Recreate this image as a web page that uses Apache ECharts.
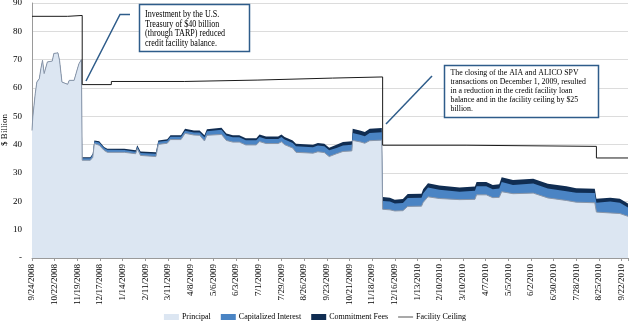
<!DOCTYPE html>
<html><head><meta charset="utf-8">
<script src="https://cdn.jsdelivr.net/npm/echarts@6/dist/echarts.min.js"></script>
<style>html,body{margin:0;padding:0;background:#fff}#c{width:630px;height:322px}</style>
</head><body><div id="c"></div>
<script>
// ---- data (values in $ billion) ----
var dates = [
 '2008-09-24','2008-09-25','2008-09-28','2008-09-30','2008-10-03','2008-10-05','2008-10-07','2008-10-09','2008-10-11','2008-10-13',
 '2008-10-19','2008-10-21','2008-10-26','2008-10-28','2008-10-31','2008-11-07','2008-11-09','2008-11-15','2008-11-18','2008-11-21','2008-11-24',
 '2008-11-25','2008-12-05','2008-12-08','2008-12-10','2008-12-16','2008-12-22','2008-12-26','2009-01-16','2009-01-18','2009-01-30',
 '2009-02-01','2009-02-05','2009-02-24','2009-02-27','2009-03-10','2009-03-14','2009-03-27','2009-04-01','2009-04-12','2009-04-19',
 '2009-04-25','2009-04-28','2009-05-16','2009-05-22','2009-05-30','2009-06-07','2009-06-15','2009-06-28','2009-07-02','2009-07-10',
 '2009-07-25','2009-07-29','2009-08-02','2009-08-12','2009-08-16','2009-09-06','2009-09-12','2009-09-20','2009-09-26','2009-10-05',
 '2009-10-13','2009-10-24','2009-10-25','2009-11-03','2009-11-09','2009-11-15','2009-11-30','2009-12-01','2009-12-10','2009-12-16',
 '2009-12-26','2010-01-01','2010-01-18','2010-01-20','2010-01-26','2010-02-09','2010-03-06','2010-03-25','2010-03-27','2010-04-08',
 '2010-04-16','2010-04-24','2010-04-27','2010-05-11','2010-06-05','2010-06-23','2010-07-16','2010-07-28','2010-08-20','2010-08-22',
 '2010-09-08','2010-09-20','2010-09-30'
];
var principal = [
 45.0,49.8,58.0,62.1,63.3,66.9,69.8,65.1,65.7,69.2,
 69.5,72.2,72.4,69.8,62.1,61.3,62.7,62.7,65.7,68.6,70.0,
 34.5,34.5,35.5,40.4,39.8,38.0,37.3,37.3,36.8,36.8,
 38.6,36.2,35.8,40.1,40.5,41.8,41.8,44.0,43.4,43.3,
 41.3,43.3,43.6,41.5,40.9,40.9,39.9,39.9,41.1,40.4,
 40.4,41.0,40.0,38.8,37.3,37.0,37.5,37.2,35.8,36.8,
 37.6,37.8,41.5,41.0,40.5,41.4,41.6,17.2,17.0,16.6,
 16.7,18.2,18.3,19.6,21.6,21.0,20.6,20.7,22.3,22.3,
 21.3,21.4,23.4,22.7,22.9,21.2,20.3,19.7,19.5,16.2,
 15.9,15.7,14.7
];
var interest = [
 0,0,0,0,0,0,0,0,0,0,
 0,0,0,0,0,0,0,0,0,0,0,
 0.7,0.7,0.9,0.7,1.0,0.8,0.9,0.8,0.7,0.7,
 0.7,0.9,1.0,0.9,0.9,1.0,1.0,0.9,0.9,1.0,
 1.3,1.4,1.7,1.7,1.7,1.7,1.7,1.7,1.6,1.6,
 1.6,1.7,1.8,1.8,2.1,2.1,2.2,2.2,2.2,2.0,
 2.1,2.2,2.6,2.5,2.5,2.7,2.8,2.9,2.9,2.6,
 2.7,3.0,3.0,3.2,3.3,3.1,2.8,3.0,3.0,3.0,
 3.0,3.1,3.4,3.1,3.4,3.3,3.3,3.3,3.4,3.3,
 4.0,3.8,3.1
];
var fees = [
 0,0,0,0,0,0,0,0,0,0,
 0,0,0,0,0,0,0,0,0,0,0,
 0.4,0.4,0.4,0.4,0.4,0.4,0.4,0.5,0.5,0.5,
 0.5,0.5,0.5,0.5,0.5,0.5,0.5,0.7,0.7,0.7,
 0.7,0.7,0.7,0.7,0.7,0.7,0.7,0.7,0.9,0.9,
 0.9,0.9,0.9,0.9,0.9,0.9,0.9,0.9,0.9,1.2,
 1.2,1.2,1.5,1.5,1.5,1.5,1.5,1.4,1.4,1.4,
 1.4,1.4,1.4,1.5,1.5,1.5,1.5,1.5,1.5,1.5,
 1.5,1.5,1.7,1.7,1.7,1.7,1.7,1.6,1.5,1.4,
 1.4,1.4,1.4
];
var ceilingDates = ['2008-09-24','2008-11-07','2008-11-25','2008-12-31','2009-03-31','2009-06-30','2009-09-30','2009-12-01','2010-03-14','2010-08-22','2010-09-30'];
var ceilingValues = [85.3,85.6,61.2,62.3,62.8,63.5,63.9,39.8,39.4,35.3,35.3];
var seriesNames = ['Principal','Capitalized Interest','Commitment Fees','Facility Ceiling'];

// ---- helpers ----
var BASE = Date.UTC(2008, 8, 24);
function dayOf(s){ var p = s.split('-').map(Number); return Math.round((Date.UTC(p[0], p[1]-1, p[2]) - BASE) / 864e5); }
function fmtDay(d){ var t = new Date(BASE + d * 864e5); return (t.getUTCMonth()+1) + '/' + t.getUTCDate() + '/' + t.getUTCFullYear(); }
function pairs(xs, ys){ return xs.map(function(x, i){ return [dayOf(x), ys[i]]; }); }
function r1(v){ return Math.round(v * 100) / 100; }
// cumulative layers (stack drawn as overlapping areas: each layer's top = sum of layers below it)
var layer2 = principal.map(function(p, i){ return r1(p + interest[i]); });
var layer3 = principal.map(function(p, i){ return r1(p + interest[i] + fees[i]); });

var FONT = 'Liberation Serif';
var chart = echarts.init(document.getElementById('c'), null, {renderer: 'canvas'});
chart.setOption({
  animation: false,
  textStyle: {fontFamily: FONT},
  grid: {left: 32, right: 2, top: 3, bottom: 64, containLabel: false, outerBoundsMode: 'none'},
  xAxis: {
    type: 'value', min: 0, max: 736, interval: 28,
    axisLine: {show: true, lineStyle: {color: '#9a9a9a'}},
    axisTick: {show: true, length: 3, lineStyle: {color: '#9a9a9a'}},
    splitLine: {show: false},
    axisLabel: {rotate: 90, fontSize: 9, color: '#000', fontFamily: FONT, margin: 6,
      formatter: function(v){ return (v % 28 === 0 && v <= 728) ? fmtDay(v) : ''; }}
  },
  yAxis: {
    type: 'value', min: 0, max: 90, interval: 10,
    axisLine: {show: true, lineStyle: {color: '#9a9a9a'}},
    axisTick: {show: false},
    splitLine: {lineStyle: {color: '#dcdcdc'}},
    axisLabel: {fontSize: 9, color: '#000', fontFamily: FONT, margin: 10,
      formatter: function(v){ return v === 0 ? '-' : String(v); }}
  },
  legend: {
    left: 'center', top: 313, padding: 0, itemWidth: 15, itemHeight: 6, itemGap: 10,
    textStyle: {fontSize: 8, color: '#000', fontFamily: FONT, padding: [0, 0, 0, -2]},
    data: [
      {name: seriesNames[0], icon: 'rect'},
      {name: seriesNames[1], icon: 'rect'},
      {name: seriesNames[2], icon: 'rect'},
      {name: seriesNames[3], icon: 'path://M0,0 L20,0 L20,1 L0,1 Z'}
    ]
  },
  series: [
    {name: seriesNames[0], type: 'line', z: 4, showSymbol: false, data: pairs(dates, principal),
     lineStyle: {color: '#8a96a8', width: 1}, itemStyle: {color: '#dce6f2'}, areaStyle: {color: '#dce6f2', opacity: 1}},
    {name: seriesNames[1], type: 'line', z: 3, showSymbol: false, data: pairs(dates, layer2),
     lineStyle: {width: 0}, itemStyle: {color: '#4a84c4'}, areaStyle: {color: '#4a84c4', opacity: 1}},
    {name: seriesNames[2], type: 'line', z: 2, showSymbol: false, data: pairs(dates, layer3),
     lineStyle: {width: 0}, itemStyle: {color: '#102d52'}, areaStyle: {color: '#102d52', opacity: 1}},
    {name: seriesNames[3], type: 'line', z: 5, step: 'end', showSymbol: false, data: pairs(ceilingDates, ceilingValues),
     lineStyle: {color: '#1a1a1a', width: 1}, itemStyle: {color: '#1a1a1a'}}
  ],
  graphic: [
    {type: 'text', x: 5, y: 130, rotation: Math.PI / 2, z: 101, style: {text: '$ Billion', font: '9px "Liberation Serif"', fill: '#000', align: 'center', verticalAlign: 'middle'}},
    {type: 'polyline', shape: {points: [[86, 81], [120, 14.5], [130, 14.5]]}, style: {stroke: '#2e5c8a', lineWidth: 1.5, fill: null}, z: 100},
    {type: 'rect', shape: {x: 139.5, y: 4.5, width: 110, height: 47}, style: {fill: '#fff', stroke: '#2e5c8a', lineWidth: 1.5}, z: 100},
    {type: 'text', x: 145, y: 10, scaleX: 0.85, z: 101, style: {text: 'Investment by the U.S.\nTreasury of $40 billion\n(through TARP) reduced\ncredit facility balance.', font: '9.5px "Liberation Serif"', lineHeight: 9.5, fill: '#000'}},
    {type: 'polyline', shape: {points: [[386, 124], [432, 76]]}, style: {stroke: '#2e5c8a', lineWidth: 1.5, fill: null}, z: 100},
    {type: 'rect', shape: {x: 444.5, y: 65.5, width: 154, height: 52}, style: {fill: '#fff', stroke: '#2e5c8a', lineWidth: 1.5}, z: 100},
    {type: 'text', x: 450.5, y: 68.5, scaleX: 0.87, z: 101, style: {text: 'The closing of the AIA and ALICO SPV\ntransactions on December 1, 2009, resulted\nin a reduction in the credit facility loan\nbalance and in the facility ceiling by $25\nbillion.', font: '9px "Liberation Serif"', lineHeight: 9, fill: '#000'}}
  ]
});
</script></body></html>
